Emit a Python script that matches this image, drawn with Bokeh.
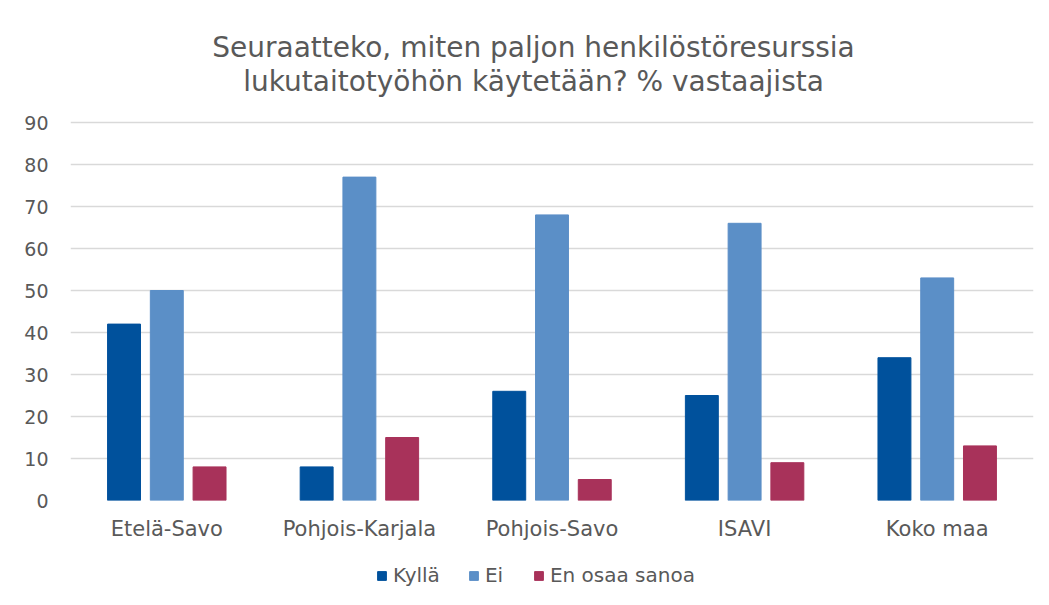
from bokeh.plotting import figure
from bokeh.layouts import column
from bokeh.models import ColumnDataSource, FactorRange, Range1d, Legend, LegendItem, Label
from bokeh.transform import dodge
from bokeh.embed import file_html
from bokeh.resources import INLINE

categories = ["Etelä-Savo", "Pohjois-Karjala", "Pohjois-Savo", "ISAVI", "Koko maa"]
kylla = [42, 8, 26, 25, 34]
ei = [50, 77, 68, 66, 53]
en_osaa = [8, 15, 5, 9, 13]
series_names = ["Kyllä", "Ei", "En osaa sanoa"]
title_lines = ["Seuraatteko, miten paljon henkilöstöresurssia",
               "lukutaitotyöhön käytetään? % vastaajista"]
colors = ["#00519c", "#5b8fc7", "#a8325a"]

source = ColumnDataSource(dict(cat=categories, kylla=kylla, ei=ei, en_osaa=en_osaa))
fields = ["kylla", "ei", "en_osaa"]
offsets = [-0.222, 0.0, 0.222]

FONT = "DejaVu Sans"
TXT = "#595959"
W = 1041


def strip(height):
    f = figure(width=W, height=height, x_range=Range1d(0, W), y_range=Range1d(0, height),
               output_backend="svg", toolbar_location=None,
               min_border_left=0, min_border_right=0, min_border_top=0, min_border_bottom=0)
    f.axis.visible = False
    f.grid.visible = False
    f.outline_line_color = None
    return f


# title strip
TH = 100
tp = strip(TH)
for line, yc in zip(title_lines, [TH - 47, TH - 81]):
    tp.add_layout(Label(x=463, y=yc, x_units="screen", y_units="screen", text=line,
                        text_align="center", text_baseline="middle", text_font=FONT,
                        text_font_size="28px", text_color=TXT))

# main chart
p = figure(width=W, height=450, x_range=FactorRange(*categories), y_range=Range1d(0, 90.48),
           output_backend="svg", toolbar_location=None,
           min_border_left=70, min_border_right=8, min_border_top=20, min_border_bottom=50)
p.title = None
for f, off, c in zip(fields, offsets, colors):
    p.vbar(x=dodge("cat", off, range=p.x_range), top=f, width=0.171, source=source,
           fill_color=c, line_color=c)

p.xgrid.grid_line_color = None
p.ygrid.grid_line_color = "#d9d9d9"
p.ygrid.grid_line_width = 1.5
p.yaxis.ticker = list(range(0, 91, 10))
p.outline_line_color = None
for ax in (p.xaxis[0], p.yaxis[0]):
    ax.axis_line_color = None
    ax.major_tick_line_color = None
    ax.minor_tick_line_color = None
    ax.major_label_text_font = FONT
    ax.major_label_text_color = TXT
p.xaxis.major_label_text_font_size = "21px"
p.yaxis.major_label_text_font_size = "19px"
p.xaxis.major_label_standoff = 10
p.yaxis.major_label_standoff = 16

# legend strip below the chart
lg = figure(width=W, height=47, x_range=FactorRange(*categories), y_range=Range1d(1000, 1001),
            output_backend="svg", toolbar_location=None,
            min_border_left=0, min_border_right=0, min_border_top=0, min_border_bottom=0)
lg.axis.visible = False
lg.grid.visible = False
lg.outline_line_color = None
lg_renderers = []
for f, off, c in zip(fields, offsets, colors):
    r = lg.vbar(x=dodge("cat", off, range=lg.x_range), top=f, width=0.171, source=source,
                fill_color=c, line_color=c)
    r.visible = False
    lg_renderers.append(r)
legend = Legend(items=[LegendItem(label=n, renderers=[r]) for n, r in zip(series_names, lg_renderers)],
                orientation="horizontal", location=(306, 10), label_text_font=FONT,
                label_text_font_size="20px", label_text_color=TXT, glyph_width=11, glyph_height=11,
                spacing=28, label_standoff=6, border_line_color=None, background_fill_alpha=0,
                margin=0, padding=4)
lg.add_layout(legend, "center")

layout = column(tp, p, lg, spacing=0)
open("out.html", "w").write(file_html(layout, INLINE))
